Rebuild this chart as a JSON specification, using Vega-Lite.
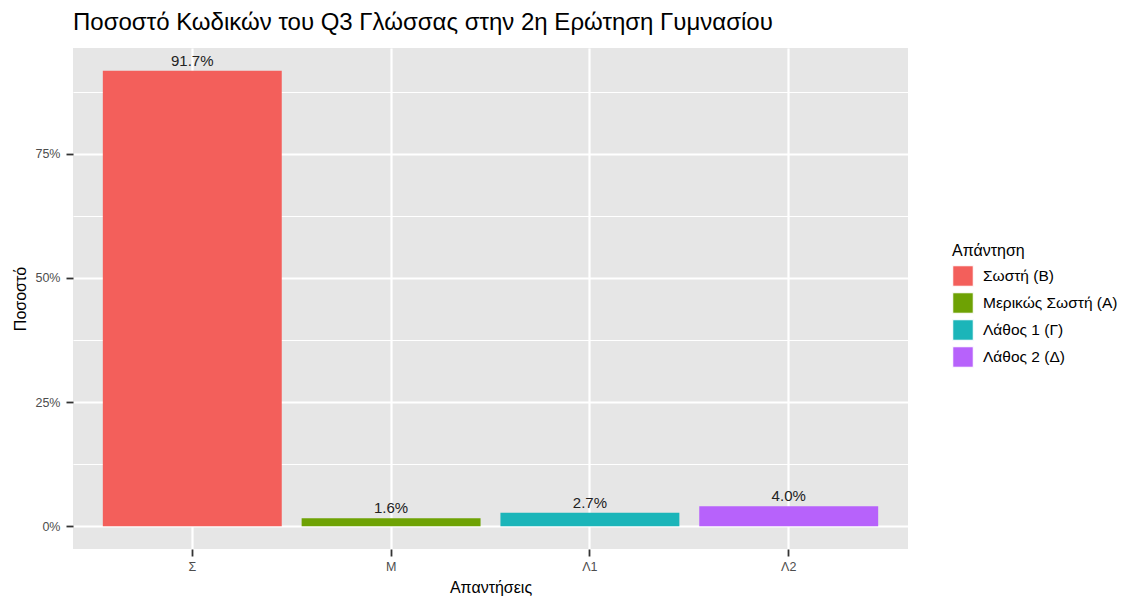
{
  "$schema": "https://vega.github.io/schema/vega-lite/v6.json",
  "width": 835,
  "height": 501,
  "autosize": {"type": "none"},
  "padding": {"left": 73, "top": 48, "right": 219, "bottom": 51},
  "background": "white",
  "config": {
    "view": {"fill": "#E6E6E6", "stroke": null},
    "font": "Liberation Sans"
  },
  "title": {
    "text": "Ποσοστό Κωδικών του Q3 Γλώσσας στην 2η Ερώτηση Γυμνασίου",
    "anchor": "start",
    "frame": "group",
    "fontSize": 24,
    "fontWeight": "normal",
    "color": "black",
    "font": "Liberation Sans",
    "offset": 13
  },
  "data": {
    "values": [
      {"code": "Σ", "answer": "Σωστή (Β)", "pct": 0.917},
      {"code": "Μ", "answer": "Μερικώς Σωστή (Α)", "pct": 0.016},
      {"code": "Λ1", "answer": "Λάθος 1 (Γ)", "pct": 0.027},
      {"code": "Λ2", "answer": "Λάθος 2 (Δ)", "pct": 0.040}
    ]
  },
  "encoding": {
    "x": {
      "field": "code",
      "type": "nominal",
      "sort": null,
      "title": "Απαντήσεις",
      "scale": {"paddingInner": 0.1, "paddingOuter": 0.15},
      "axis": {
        "bandPosition": 0.5,
        "labelAngle": 0,
        "domain": false,
        "grid": true,
        "gridColor": "white",
        "gridWidth": 2.2,
        "tickColor": "#333333",
        "tickSize": 7,
        "tickWidth": 1.8,
        "labelColor": "#4D4D4D",
        "labelFontSize": 12.5,
        "labelPadding": 4.5,
        "titleFontSize": 16,
        "titleFontWeight": "normal",
        "titleColor": "black",
        "titlePadding": 6.5
      }
    },
    "y": {
      "field": "pct",
      "type": "quantitative",
      "title": "Ποσοστό",
      "scale": {"domain": [-0.04585, 0.96285], "nice": false, "zero": false},
      "axis": {
        "values": [0, 0.125, 0.25, 0.375, 0.5, 0.625, 0.75, 0.875],
        "labelExpr": "round(datum.value*1000) % 250 == 0 ? format(datum.value, '.0%') : ''",
        "domain": false,
        "grid": true,
        "gridColor": "white",
        "gridWidth": {"condition": {"test": "round(datum.value*1000) % 250 == 0", "value": 2.2}, "value": 1.1},
        "tickOpacity": {"condition": {"test": "round(datum.value*1000) % 250 == 0", "value": 1}, "value": 0},
        "tickColor": "#333333",
        "tickSize": 7,
        "tickWidth": 1.8,
        "labelColor": "#4D4D4D",
        "labelFontSize": 12.5,
        "labelPadding": 6,
        "titleFontSize": 16,
        "titleFontWeight": "normal",
        "titleColor": "black",
        "titlePadding": 6
      }
    }
  },
  "layer": [
    {
      "mark": {"type": "bar"},
      "encoding": {
        "color": {
          "field": "answer",
          "type": "nominal",
          "title": "Απάντηση",
          "scale": {
            "domain": ["Σωστή (Β)", "Μερικώς Σωστή (Α)", "Λάθος 1 (Γ)", "Λάθος 2 (Δ)"],
            "range": ["#F35F5B", "#6EA204", "#1BB5B9", "#B762FB"]
          },
          "legend": {
            "orient": "none",
            "legendX": 879,
            "legendY": 195,
            "titleFontSize": 16,
            "titleFontWeight": "normal",
            "titleColor": "black",
            "titlePadding": 6,
            "labelFontSize": 15.5,
            "labelColor": "black",
            "labelBaseline": "middle",
            "symbolType": "square",
            "symbolSize": 420,
            "symbolOpacity": 1,
            "symbolStrokeColor": "white",
            "symbolStrokeWidth": 1,
            "rowPadding": 1,
            "labelOffset": 9
          }
        }
      }
    },
    {
      "mark": {"type": "text", "baseline": "alphabetic", "dy": -5, "fontSize": 15, "color": "#222222"},
      "encoding": {
        "text": {"field": "pct", "type": "quantitative", "format": ".1%"}
      }
    }
  ]
}
